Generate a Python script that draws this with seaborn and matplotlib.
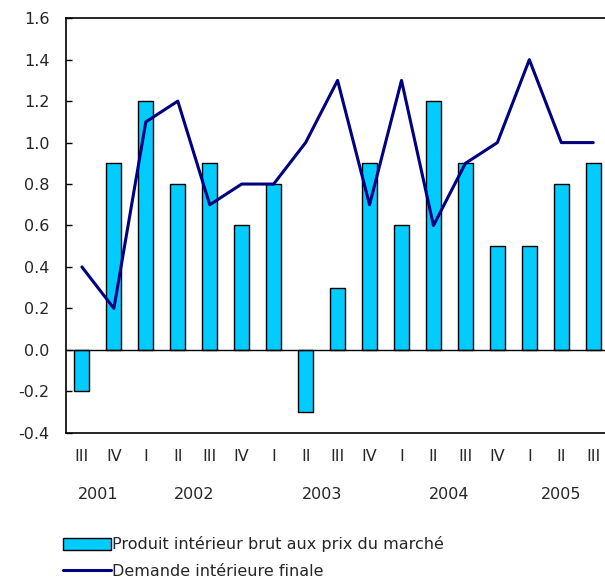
import numpy as np
import pandas as pd
import matplotlib
matplotlib.use('Agg')
import matplotlib.pyplot as plt
import seaborn as sns
from matplotlib.patches import Patch
from matplotlib.lines import Line2D

quarters = ['III', 'IV', 'I', 'II', 'III', 'IV', 'I', 'II', 'III', 'IV',
            'I', 'II', 'III', 'IV', 'I', 'II', 'III']
years = [2001, 2001, 2002, 2002, 2002, 2002, 2003, 2003, 2003, 2003,
         2004, 2004, 2004, 2004, 2005, 2005, 2005]
pib = [-0.2, 0.9, 1.2, 0.8, 0.9, 0.6, 0.8, -0.3, 0.3, 0.9,
       0.6, 1.2, 0.9, 0.5, 0.5, 0.8, 0.9]
demande = [0.4, 0.2, 1.1, 1.2, 0.7, 0.8, 0.8, 1.0, 1.3, 0.7,
           1.3, 0.6, 0.9, 1.0, 1.4, 1.0, 1.0]

df = pd.DataFrame({'pos': np.arange(len(pib)), 'trim': quarters, 'annee': years,
                   'pib': pib, 'demande': demande})

sns.set_style('white')
plt.rcParams['font.family'] = ['DejaVu Sans']
fs = 11.5

fig = plt.figure(figsize=(6.05, 5.88), dpi=100)
ax = fig.add_axes([0.109, 0.264, 0.898, 0.705])

sns.barplot(data=df, x='pos', y='pib', color='#00CCFF', edgecolor='black',
            linewidth=1.0, width=0.47, saturation=1, ax=ax)
sns.lineplot(data=df, x='pos', y='demande', color='#000080', linewidth=2.2, ax=ax)

ax.set_xlim(-0.5, len(pib) - 0.5)
ax.set_ylim(-0.4, 1.6)
yt = np.arange(-0.4, 1.61, 0.2)
ax.set_yticks(yt)
ax.set_yticklabels([f'{v:.1f}' for v in yt], fontsize=fs)
ax.set_xticks(df['pos'])
ax.set_xticklabels(quarters, fontsize=fs)
ax.tick_params(axis='x', which='major', length=0, pad=12)
ax.set_xticks(np.arange(0.5, len(pib) - 0.5, 1), minor=True)
ax.tick_params(axis='x', which='minor', direction='in', length=5, width=1, color='black')
ax.tick_params(axis='y', direction='in', length=4, width=1, color='black', left=True, pad=12)
ax.axhline(0, color='black', linewidth=1)
ax.set_xlabel('')
ax.set_ylabel('')
for s in ax.spines.values():
    s.set_color('black')
    s.set_linewidth(1.2)

# années sous les trimestres
for an, grp in df.groupby('annee'):
    ax.text(grp['pos'].mean(), -0.149, str(an), transform=ax.get_xaxis_transform(),
            ha='center', va='center', fontsize=fs)

handles = [Patch(facecolor='#00CCFF', edgecolor='black', linewidth=1),
           Line2D([0], [0], color='#000080', linewidth=2.2)]
fig.legend(handles, ['Produit intérieur brut aux prix du marché', 'Demande intérieure finale'],
           loc='upper left', bbox_to_anchor=(0.104, 0.088), frameon=False, fontsize=fs,
           handlelength=3.0, handleheight=0.8, handletextpad=0.1, labelspacing=0.75,
           borderpad=0, borderaxespad=0)

fig.savefig('out.png', dpi=100)
